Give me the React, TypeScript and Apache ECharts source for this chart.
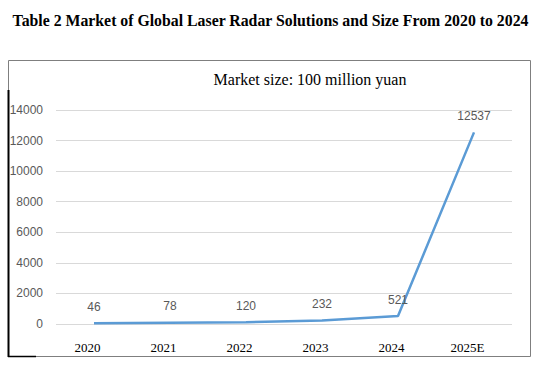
import React, { useEffect, useRef } from "react";
import * as echarts from "echarts";

const categories = ["2020", "2021", "2022", "2023", "2024", "2025E"];
const marketSize = [46, 78, 120, 232, 521, 12537];
const yMax = 14000;
const yInterval = 2000;

export default function App() {
  const ref = useRef<HTMLDivElement>(null);
  useEffect(() => {
    if (!ref.current) return;
    const chart = echarts.init(ref.current, null, { renderer: "svg" });
    chart.setOption({
      animation: false,
      backgroundColor: "#ffffff",
      title: [
        {
          text: "Table 2 Market of Global Laser Radar Solutions and Size From 2020 to 2024",
          left: "center",
          top: 7,
          textStyle: {
            fontFamily: "Liberation Serif",
            fontWeight: "bold",
            fontSize: 15.8,
            color: "#000000",
          },
        },
        {
          text: "Market size: 100 million yuan",
          left: 305,
          textAlign: "center",
          top: 66,
          textStyle: {
            fontFamily: "Liberation Serif",
            fontWeight: "normal",
            fontSize: 16,
            color: "#000000",
          },
        },
      ],
      graphic: [
        {
          type: "rect",
          shape: { x: 8.5, y: 60.5, width: 522, height: 296 },
          style: { fill: "none", stroke: "#7f7f7f", lineWidth: 1 },
          silent: true,
        },
        {
          type: "line",
          shape: { x1: 8.5, y1: 90, x2: 8.5, y2: 357 },
          style: { stroke: "#000000", lineWidth: 2 },
          silent: true,
        },
        {
          type: "line",
          shape: { x1: 8, y1: 356.5, x2: 36, y2: 356.5 },
          style: { stroke: "#000000", lineWidth: 1.5 },
          silent: true,
        },
      ],
      grid: { left: 56, right: 29, top: 110, bottom: 45 },
      xAxis: {
        type: "category",
        data: categories,
        boundaryGap: true,
        axisLine: { show: false },
        axisTick: { show: false },
        axisLabel: {
          fontFamily: "Liberation Serif",
          fontSize: 13,
          color: "#000000",
          margin: 17,
          padding: [0, 13, 0, 0],
        },
      },
      yAxis: {
        type: "value",
        min: 0,
        max: yMax,
        interval: yInterval,
        axisLine: { show: false },
        axisTick: { show: false },
        axisLabel: {
          fontFamily: "Liberation Sans",
          fontSize: 12,
          color: "#595959",
          margin: 13,
          formatter: (v: number) => String(v),
        },
        splitLine: { lineStyle: { color: "#d9d9d9", width: 1 } },
      },
      series: [
        {
          type: "line",
          data: marketSize,
          symbol: "circle",
          symbolSize: 1,
          showSymbol: true,
          itemStyle: { color: "rgba(91,155,213,0)" },
          lineStyle: { color: "#5b9bd5", width: 2.5 },
          label: {
            show: true,
            position: "top",
            distance: 10,
            fontFamily: "Liberation Sans",
            fontSize: 12,
            color: "#595959",
          },
        },
      ],
    });
    return () => chart.dispose();
  }, []);
  return (
    <div
      ref={ref}
      style={{ position: "fixed", left: 0, top: 0, width: 541, height: 369 }}
    />
  );
}
